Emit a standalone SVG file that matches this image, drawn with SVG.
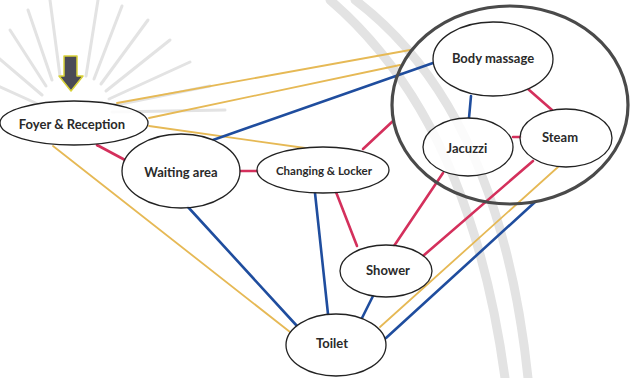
<svg xmlns="http://www.w3.org/2000/svg" width="630" height="378" viewBox="0 0 630 378">
  <style>
    .bg { fill: none; stroke: #e3e3e3; stroke-linecap: round; }
    .node ellipse { fill: #ffffff; fill-opacity: 0.85; stroke: #222222; stroke-width: 1.3; }
    .node text { font-family: "Lato", "Liberation Sans", sans-serif; font-weight: bold; font-size: 13px; fill: #2a2a2a; text-anchor: middle; dominant-baseline: central; }
    .gold { stroke: #e6b955; stroke-width: 1.8; }
    .blue { stroke: #1f4d9e; stroke-width: 2.6; }
    .red  { stroke: #d4305c; stroke-width: 2.6; }
    .zone { fill: none; stroke: #4a4a4a; stroke-width: 3.2; }
  </style>

  <rect width="630" height="378" fill="#ffffff"/>

  <!-- faint background seal: sunburst and arcs -->
  <g id="background">
    <g class="bg" stroke-width="3">
      <line x1="40" y1="105" x2="-15" y2="80"/>
      <line x1="42" y1="95" x2="-5" y2="55"/>
      <line x1="46" y1="86" x2="10" y2="30"/>
      <line x1="52" y1="80" x2="28" y2="10"/>
      <line x1="60" y1="76" x2="50" y2="0"/>
      <line x1="86" y1="76" x2="98" y2="0"/>
      <line x1="94" y1="79" x2="122" y2="6"/>
      <line x1="101" y1="84" x2="148" y2="20"/>
      <line x1="106" y1="91" x2="170" y2="40"/>
      <line x1="109" y1="99" x2="190" y2="62"/>
      <line x1="111" y1="106" x2="210" y2="86"/>
      <line x1="112" y1="112" x2="225" y2="110"/>
    </g>
    <path class="bg" stroke-width="9" d="M 330 0 Q 470 120 505 378"/>
    <path class="bg" stroke-width="9" d="M 355 0 Q 500 110 528 378"/>
  </g>

  <!-- entrance arrow -->
  <polygon points="64,56 77,56 77,76 83,76 71,91 59,76 64,76" fill="#4a4a56" stroke="#d9d238" stroke-width="1.5" stroke-linejoin="round"/>

  <!-- connectors -->
  <g id="connectors" fill="none" stroke-linecap="round">
    <line class="gold" x1="117" y1="103" x2="410" y2="50"/>
    <line class="gold" x1="149" y1="118" x2="400" y2="65"/>
    <line class="gold" x1="149" y1="126" x2="305" y2="148"/>
    <line class="gold" x1="53" y1="146" x2="290" y2="332"/>
    <line class="gold" x1="380" y1="327" x2="558" y2="167"/>

    <line class="blue" x1="213" y1="140" x2="433" y2="63"/>
    <line class="blue" x1="471" y1="96" x2="469" y2="118"/>
    <line class="blue" x1="188" y1="207" x2="297" y2="326"/>
    <line class="blue" x1="315" y1="193" x2="328" y2="314"/>
    <line class="blue" x1="373" y1="296" x2="362" y2="318"/>
    <line class="blue" x1="386" y1="338" x2="535" y2="202"/>

    <line class="red" x1="97" y1="145" x2="125" y2="160"/>
    <line class="red" x1="240" y1="171" x2="258" y2="171"/>
    <line class="red" x1="363" y1="149" x2="393" y2="121"/>
    <line class="red" x1="528" y1="89" x2="552" y2="110"/>
    <line class="red" x1="513" y1="137" x2="521" y2="137"/>
    <line class="red" x1="336" y1="192" x2="357" y2="246"/>
    <line class="red" x1="443" y1="173" x2="394" y2="246"/>
    <line class="red" x1="533" y1="161" x2="423" y2="256"/>
  </g>

  <!-- spa zone enclosing massage, jacuzzi and steam -->
  <ellipse id="spa-zone" class="zone" cx="510" cy="105" rx="118" ry="99"/>

  <g id="foyer" class="node">
    <ellipse cx="74" cy="123" rx="74" ry="22"/>
    <text x="72" y="124">Foyer &amp; Reception</text>
  </g>
  <g id="waiting" class="node">
    <ellipse cx="181" cy="171" rx="59" ry="37"/>
    <text x="181" y="172">Waiting area</text>
  </g>
  <g id="changing" class="node">
    <ellipse cx="323" cy="170" rx="66" ry="23"/>
    <text x="324" y="170" style="font-size:11.5px">Changing &amp; Locker</text>
  </g>
  <g id="massage" class="node">
    <ellipse cx="493" cy="59" rx="60" ry="37"/>
    <text x="493" y="58">Body massage</text>
  </g>
  <g id="jacuzzi" class="node">
    <ellipse cx="468" cy="147" rx="45" ry="29"/>
    <text x="467" y="148">Jacuzzi</text>
  </g>
  <g id="steam" class="node">
    <ellipse cx="566" cy="138" rx="46" ry="29"/>
    <text x="560" y="137">Steam</text>
  </g>
  <g id="shower" class="node">
    <ellipse cx="386" cy="271" rx="46" ry="26"/>
    <text x="388" y="270">Shower</text>
  </g>
  <g id="toilet" class="node">
    <ellipse cx="336" cy="345" rx="50" ry="31"/>
    <text x="332" y="343">Toilet</text>
  </g>
</svg>
